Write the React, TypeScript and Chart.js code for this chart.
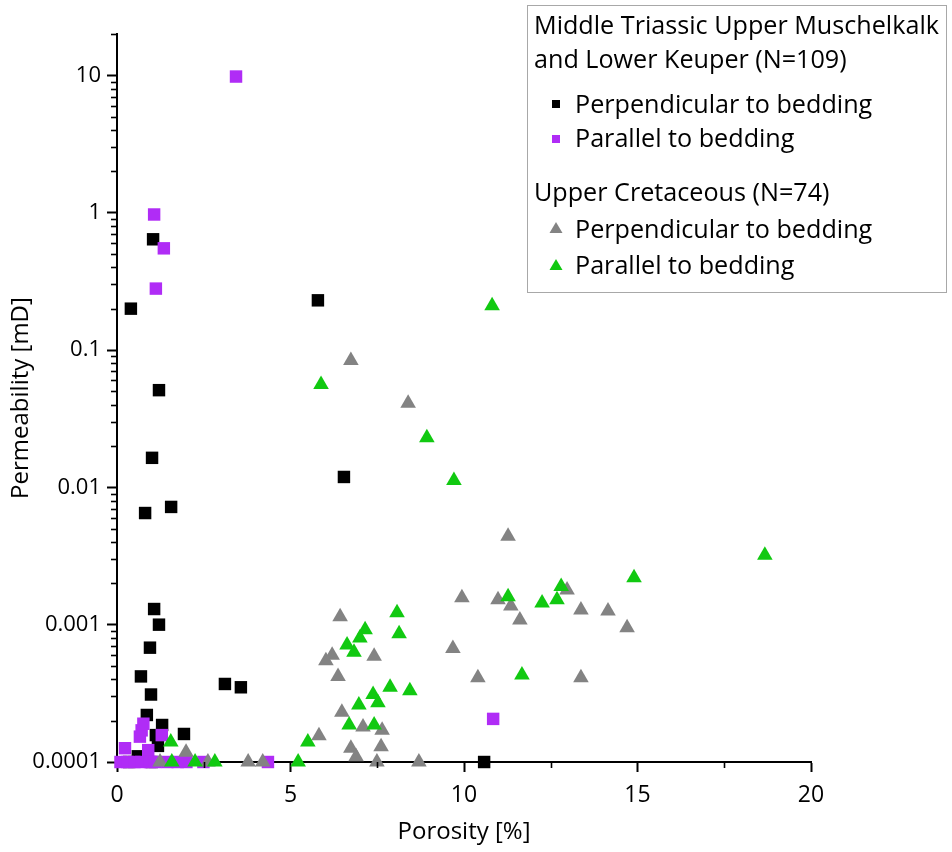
import React, { useEffect, useRef } from 'react';
import { Chart, registerables } from 'chart.js';

Chart.register(...registerables);

// ---------- Data (porosity %, permeability mD) ----------
const triassicPerpPorosity = [0.40, 1.04, 1.21, 1.01, 0.81, 1.56, 5.79, 6.54, 1.07, 1.21, 0.95, 0.69, 0.98, 0.86, 1.30, 1.12, 1.18, 1.93, 3.11, 3.57, 10.58, 0.60, 0.35, 1.00];
const triassicPerpPermeability = [0.2, 0.64, 0.051, 0.0164, 0.0065, 0.0072, 0.23, 0.0119, 0.0013, 0.001, 0.00068, 0.00042, 0.00031, 0.00022, 0.000186, 0.000157, 0.000131, 0.00016, 0.00037, 0.00035, 0.0001, 0.00011, 0.0001, 0.0001];

const triassicParaPorosity = [3.43, 1.07, 1.35, 1.12, 10.84, 0.76, 0.71, 0.66, 1.29, 0.23, 0.90, 0.10, 0.30, 0.50, 0.70, 0.95, 1.10, 1.45, 1.75, 2.00, 2.49, 4.35];
const triassicParaPermeability = [9.8, 0.97, 0.55, 0.28, 0.000206, 0.00019, 0.00017, 0.000153, 0.000157, 0.000126, 0.000122, 0.0001, 0.0001, 0.0001, 0.0001, 0.0001, 0.0001, 0.0001, 0.0001, 0.0001, 0.0001, 0.0001];

const cretPerpPorosity = [6.74, 8.39, 11.27, 9.94, 10.98, 11.35, 11.61, 12.97, 13.37, 14.15, 14.70, 9.68, 10.40, 13.37, 6.43, 6.20, 6.02, 6.37, 7.41, 6.48, 5.82, 7.09, 7.64, 6.74, 7.61, 6.89, 7.49, 8.70, 1.24, 1.99, 2.62, 3.78, 4.20];
const cretPerpPermeability = [0.084, 0.041, 0.0044, 0.00157, 0.00152, 0.00137, 0.00108, 0.00179, 0.00128, 0.00126, 0.00095, 0.00067, 0.00041, 0.00041, 0.00114, 0.0006, 0.000545, 0.00042, 0.00059, 0.00023, 0.000155, 0.00018, 0.00017, 0.000126, 0.000129, 0.000109, 0.0001, 0.0001, 0.0001, 0.000118, 0.0001, 0.0001, 0.0001];

const cretParaPorosity = [10.81, 5.88, 8.93, 9.71, 18.67, 14.90, 12.80, 12.68, 12.25, 11.27, 8.07, 8.13, 7.15, 7.00, 6.63, 6.83, 11.67, 7.87, 8.44, 7.38, 7.52, 6.97, 6.69, 7.41, 5.50, 5.22, 1.55, 1.58, 2.25, 2.82];
const cretParaPermeability = [0.21, 0.056, 0.023, 0.0112, 0.0032, 0.0022, 0.0019, 0.00152, 0.00144, 0.0016, 0.00122, 0.00086, 0.00092, 0.0008, 0.00071, 0.00063, 0.00043, 0.00035, 0.00033, 0.00031, 0.00027, 0.00026, 0.000186, 0.000186, 0.00014, 0.0001, 0.00014, 0.0001, 0.0001, 0.0001];

// ---------- Ticks / labels ----------
const yTickValues = [0.0001, 0.001, 0.01, 0.1, 1, 10];
const yTickLabels = ['0.0001', '0.001', '0.01', '0.1', '1', '10'];
const yMin = 0.0001;
const yMax = 20;
const xMajorTicks = [0, 5, 10, 15, 20];
const xMinorTicks = [2.5, 7.5, 12.5, 17.5];
const xMin = 0;
const xMax = 20;

const legendTitle1 = ['Middle Triassic Upper Muschelkalk', 'and Lower Keuper (N=109)'];
const legendTitle2 = 'Upper Cretaceous (N=74)';
const itemPerp = 'Perpendicular to bedding';
const itemPara = 'Parallel to bedding';

const COLORS = {
  black: '#000000',
  purple: '#b02cf6',
  grey: '#838383',
  green: '#11c911',
};

const FONT = '"Open Sans", "DejaVu Sans", sans-serif';

function zip(xs: number[], ys: number[]) {
  return xs.map((x, i) => ({ x, y: ys[i] }));
}

function isPow10(v: number) {
  const l = Math.log10(v);
  return Math.abs(l - Math.round(l)) < 1e-9;
}

const decorPlugin = {
  id: 'decor',
  afterDraw(chart: any) {
    const { ctx, chartArea, scales } = chart;
    const xs = scales.x;
    const ys = scales.y;
    ctx.save();
    ctx.strokeStyle = '#000';
    // minor x ticks
    ctx.lineWidth = 1.6;
    for (const v of xMinorTicks) {
      const px = Math.round(xs.getPixelForValue(v)) + 0.5;
      ctx.beginPath();
      ctx.moveTo(px, chartArea.bottom);
      ctx.lineTo(px, chartArea.bottom + 6);
      ctx.stroke();
    }
    // minor y ticks (2..9 per decade)
    for (let e = -4; e <= 1; e++) {
      for (let m = 2; m <= 9; m++) {
        const v = m * Math.pow(10, e);
        if (v > yMax + 1e-9) continue;
        const py = Math.round(ys.getPixelForValue(v)) + 0.5;
        ctx.beginPath();
        ctx.moveTo(chartArea.left - 6, py);
        ctx.lineTo(chartArea.left, py);
        ctx.stroke();
      }
    }

    // ----- legend box -----
    const bx = 527, by = 5, bw = 420, bh = 288;
    ctx.fillStyle = '#ffffff';
    ctx.fillRect(bx, by, bw, bh);
    ctx.strokeStyle = '#a8a8a8';
    ctx.lineWidth = 1;
    ctx.strokeRect(bx + 0.5, by + 0.5, bw - 1, bh - 1);

    ctx.font = `22px ${FONT}`;
    const w = ctx.measureText(legendTitle1[0]).width;
    const size = 22 * 405 / w;
    ctx.font = `${size.toFixed(2)}px ${FONT}`;
    ctx.fillStyle = '#000';
    ctx.textAlign = 'left';
    ctx.textBaseline = 'alphabetic';
    const tx = 534;
    ctx.fillText(legendTitle1[0], tx, 34);
    ctx.fillText(legendTitle1[1], tx, 68);
    ctx.fillText(legendTitle2, tx, 201);

    const ix = 575;
    const mx = 556;
    const items = [
      { label: itemPerp, base: 113, my: 104, color: COLORS.black, shape: 'rect' },
      { label: itemPara, base: 147, my: 139, color: COLORS.purple, shape: 'rect' },
      { label: itemPerp, base: 238, my: 228, color: COLORS.grey, shape: 'tri' },
      { label: itemPara, base: 274, my: 265, color: COLORS.green, shape: 'tri' },
    ];
    for (const it of items) {
      ctx.fillStyle = it.color;
      if (it.shape === 'rect') {
        ctx.fillRect(mx - 4, it.my - 4, 8, 8);
      } else {
        ctx.beginPath();
        ctx.moveTo(mx, it.my - 6);
        ctx.lineTo(mx + 6.5, it.my + 5);
        ctx.lineTo(mx - 6.5, it.my + 5);
        ctx.closePath();
        ctx.fill();
      }
      ctx.fillStyle = '#000';
      ctx.fillText(it.label, ix, it.base);
    }
    ctx.restore();
  },
};

export default function App() {
  const canvasRef = useRef<HTMLCanvasElement | null>(null);

  useEffect(() => {
    if (!canvasRef.current) return;
    const common = { borderWidth: 0, pointBorderWidth: 0, showLine: false, clip: false as any };
    const chart = new Chart(canvasRef.current, {
      type: 'scatter',
      data: {
        datasets: [
          {
            label: 'Triassic perpendicular',
            data: zip(triassicPerpPorosity, triassicPerpPermeability),
            backgroundColor: COLORS.black,
            borderColor: COLORS.black,
            pointStyle: 'rect',
            pointRadius: 8.8,
            order: 4,
            ...common,
          },
          {
            label: 'Triassic parallel',
            data: zip(triassicParaPorosity, triassicParaPermeability),
            backgroundColor: COLORS.purple,
            borderColor: COLORS.purple,
            pointStyle: 'rect',
            pointRadius: 8.8,
            order: 3,
            ...common,
          },
          {
            label: 'Cretaceous perpendicular',
            data: zip(cretPerpPorosity, cretPerpPermeability),
            backgroundColor: COLORS.grey,
            borderColor: COLORS.grey,
            pointStyle: 'triangle',
            pointRadius: 9,
            order: 2,
            ...common,
          },
          {
            label: 'Cretaceous parallel',
            data: zip(cretParaPorosity, cretParaPermeability),
            backgroundColor: COLORS.green,
            borderColor: COLORS.green,
            pointStyle: 'triangle',
            pointRadius: 9,
            order: 1,
            ...common,
          },
        ] as any,
      },
      options: {
        responsive: false,
        animation: false,
        devicePixelRatio: 1,
        layout: { padding: { left: 0, top: 34, right: 141, bottom: 0 } },
        plugins: {
          legend: { display: false },
          tooltip: { enabled: false },
        },
        scales: {
          x: {
            type: 'linear',
            min: xMin,
            max: xMax,
            afterFit: (scale: any) => { scale.height = 90; },
            border: { display: true, color: '#000', width: 2 },
            grid: {
              display: true,
              drawOnChartArea: false,
              drawTicks: true,
              tickLength: 10,
              tickWidth: 2,
              tickColor: (c: any) => (xMajorTicks.includes(c.tick?.value) ? '#000' : 'rgba(0,0,0,0)'),
            },
            ticks: {
              stepSize: 2.5,
              autoSkip: false,
              maxRotation: 0,
              padding: 10,
              color: '#000',
              font: { family: FONT, size: 23 },
              callback: (v: any) => (xMajorTicks.includes(Number(v)) ? String(v) : ''),
            },
            title: {
              display: true,
              text: 'Porosity [%]',
              color: '#000',
              font: { family: FONT, size: 24 },
              padding: { top: 0, bottom: 5 },
            },
          },
          y: {
            type: 'logarithmic',
            min: yMin,
            max: yMax,
            afterFit: (scale: any) => { scale.width = 117; },
            border: { display: true, color: '#000', width: 2 },
            grid: {
              display: true,
              drawOnChartArea: false,
              drawTicks: true,
              tickLength: 10,
              tickWidth: 2,
              tickColor: (c: any) => (c.tick && isPow10(c.tick.value) ? '#000' : 'rgba(0,0,0,0)'),
            },
            ticks: {
              autoSkip: false,
              padding: 6,
              color: '#000',
              font: { family: FONT, size: 22 },
              callback: (v: any) => {
                const i = yTickValues.findIndex((t) => Math.abs(Math.log10(t) - Math.log10(Number(v))) < 1e-6);
                return i >= 0 ? yTickLabels[i] : '';
              },
            },
            title: {
              display: true,
              text: 'Permeability [mD]',
              color: '#000',
              font: { family: FONT, size: 24 },
              padding: { top: 7, bottom: 0 },
            },
          },
        },
      } as any,
      plugins: [decorPlugin],
    });
    return () => chart.destroy();
  }, []);

  return (
    <div style={{ position: 'absolute', left: 0, top: 0, width: 952, height: 852, background: '#fff' }}>
      <canvas ref={canvasRef} width={952} height={852} style={{ display: 'block' }} />
    </div>
  );
}
